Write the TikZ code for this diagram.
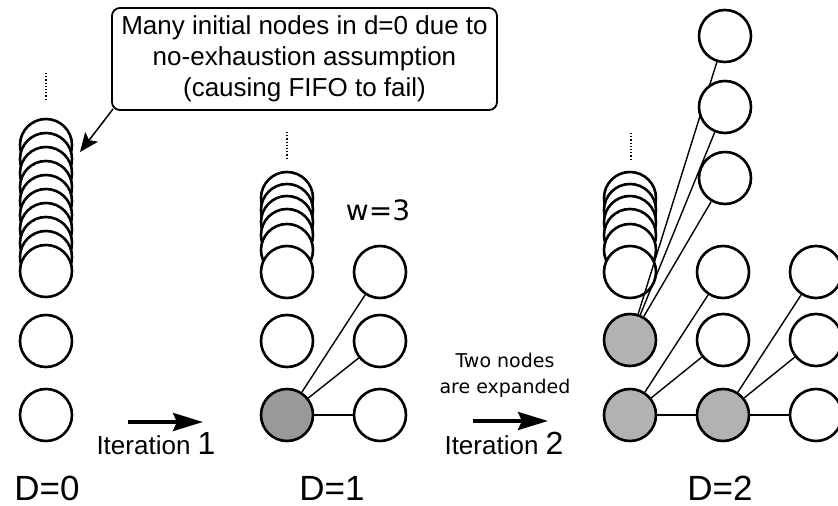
\documentclass[tikz,border=0pt]{standalone}
\usepackage{fontspec}
\setmainfont{Liberation Sans}
\newfontfamily\widefont{DejaVu Sans}
\usetikzlibrary{arrows.meta}
\tikzstyle{state}=[circle,draw=black,line width=2.6pt,fill=white,minimum size=52pt,inner sep=0pt]
\tikzstyle{picked}=[state,fill=black!40]
\tikzstyle{expanded}=[state,fill=black!30]
\tikzstyle{link}=[line width=1.4pt]
\tikzstyle{dots}=[dotted,line width=1.2pt]
\tikzstyle{iter}=[line width=3.5pt,-{Stealth[length=30pt,width=18pt,inset=4pt]}]
\tikzstyle{pointer}=[line width=1.5pt,-{Stealth[length=19pt,width=16pt,inset=4pt]}]
\tikzstyle{callout}=[rectangle,rounded corners=8pt,draw=black,line width=1.8pt,minimum width=385pt,minimum height=102pt,align=center,font=\fontsize{26}{31}\selectfont]
\tikzstyle{dtext}=[font=\fontsize{35}{35}\selectfont,inner sep=1pt]

\begin{document}
\begin{tikzpicture}[x=1pt,y=1pt,node distance=93pt]
\useasboundingbox (0,0) rectangle (838,506);

% depth 0
\foreach \y [count=\i] in {361,347,...,235}
  \node (s0-\i) [state] at (46,\y) {};
\node (m0) [state] at (46,165) {};
\node (b0) [state] at (46,91) {};
\coordinate (dot0a) at (46,433);
\coordinate (dot0b) at (46,406);
\draw[dots] (dot0a) -- (dot0b);

% depth 1
\foreach \y [count=\i] in {308,296,284,271,256,234}
  \node (s1-\i) [state] at (287,\y) {};
\node (m1) [state] at (287,165) {};
\node (g1) [picked] at (287,91) {};
\node (r1a) [state,right of=s1-6] {};
\node (r1b) [state,right of=m1] {};
\node (r1c) [state,right of=g1] {};
\coordinate (dot1a) at (287,374);
\coordinate (dot1b) at (287,346);
\draw[dots] (dot1a) -- (dot1b);
\draw[link] (g1) -- (r1a);
\draw[link] (g1) -- (r1b);
\draw[link] (g1) -- (r1c);
\node (wlbl) at (378,296) {\widefont\fontsize{28}{28}\selectfont w=3};

% depth 2
\foreach \y [count=\i] in {308,296,284,271,256,234}
  \node (s2-\i) [state] at (630,\y) {};
\node (g2b) [expanded] at (630,166) {};
\node (g2a) [expanded] at (630,91) {};
\node (g2c) [expanded,right of=g2a] {};
\node (u2a) [state,right of=s2-6] {};
\node (u2b) [state,right of=g2b] {};
\node (v2a) [state,right of=u2a] {};
\node (v2b) [state,right of=u2b] {};
\node (v2c) [state,right of=g2c] {};
\node (t3) [state] at (725,328) {};
\node (t1) [state] at (725,470) {};
\coordinate (dot2a) at (631,373);
\coordinate (dot2b) at (631,346);
\draw[dots] (dot2a) -- (dot2b);
\draw[link] (g2b) -- (t1);
\draw[link] (g2b) -- (t3);
\node (t2) [state] at (725,399) {};
\draw[link] (g2b) -- (t2);
\draw[link] (g2a) -- (u2a);
\draw[link] (g2a) -- (u2b);
\draw[link] (g2a) -- (g2c);
\draw[link] (g2c) -- (v2a);
\draw[link] (g2c) -- (v2b);
\draw[link] (g2c) -- (v2c);

% iterations
\coordinate (it1a) at (128,84);
\coordinate (it1b) at (203,84);
\draw[iter] (it1a) -- (it1b);
\node (it1lbl) [anchor=base] at (156,51) {\fontsize{26}{28}\selectfont Iteration {\fontsize{32}{32}\selectfont 1}};
\coordinate (it2a) at (473,85);
\coordinate (it2b) at (548,85);
\draw[iter] (it2a) -- (it2b);
\node (it2lbl) [anchor=base] at (504,51) {\fontsize{26}{28}\selectfont Iteration {\fontsize{32}{32}\selectfont 2}};
\node (exptext) [align=center,font=\widefont\fontsize{19}{26}\selectfont] at (505,131) {Two nodes\\are expanded};

% depth labels
\node (d0) [dtext] at (47,18) {D=0};
\node (d1) [dtext] at (332,18) {D=1};
\node (d2) [dtext] at (720,18) {D=2};

% note
\node (note) [callout] at (304.5,447) {Many initial nodes in d=0 due to\\no-exhaustion assumption\\(causing FIFO to fail)};
\coordinate (notetip) at (80,354);
\draw[pointer] ([xshift=2pt,yshift=2pt]note.south west) -- (notetip);
\end{tikzpicture}
\end{document}
